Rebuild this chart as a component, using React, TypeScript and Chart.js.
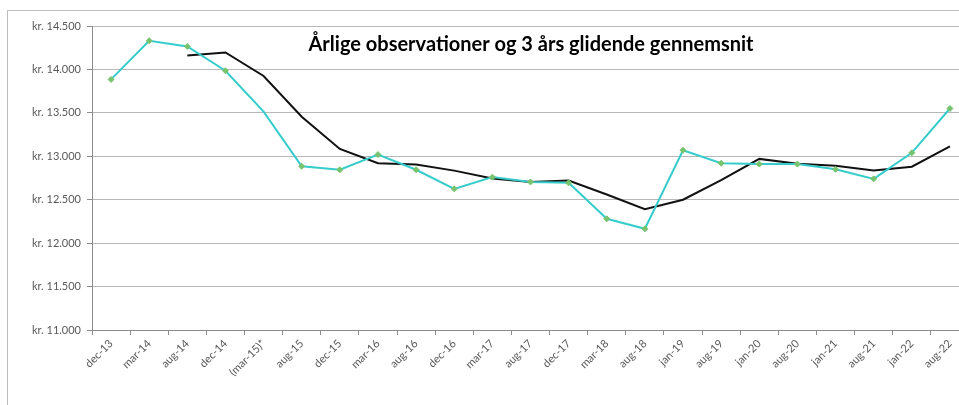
import React, { useEffect, useRef } from "react";
import { Chart, registerables } from "chart.js";

Chart.register(...registerables);

const categories = [
  "dec-13", "mar-14", "aug-14", "dec-14", "(mar-15)*", "aug-15", "dec-15", "mar-16",
  "aug-16", "dec-16", "mar-17", "aug-17", "dec-17", "mar-18", "aug-18", "jan-19",
  "aug-19", "jan-20", "aug-20", "jan-21", "aug-21", "jan-22", "aug-22",
];

const annualObservations = [
  13885, 14330, 14265, 13985, 13515, 12885, 12845, 13020, 12845, 12625, 12760, 12705,
  12695, 12280, 12165, 13070, 12920, 12910, 12910, 12850, 12740, 13040, 13550,
];

const movingAverage3y = [
  null, null, 14160, 14195, 13925, 13455, 13085, 12920, 12905, 12835, 12745, 12705,
  12720, 12560, 12390, 12500, 12725, 12970, 12915, 12890, 12835, 12880, 13115,
];

const categoriesWithoutMarker = ["(mar-15)*"];

const yTicks = [11000, 11500, 12000, 12500, 13000, 13500, 14000, 14500];

const titleText = "Årlige observationer og 3 års glidende gennemsnit";

const formatKr = (v: number) =>
  "kr. " + Math.round(v).toString().replace(/\B(?=(\d{3})+(?!\d))/g, ".");

const FONT = "Lato, 'Liberation Sans', sans-serif";

const overlayTitle = {
  id: "overlayTitle",
  afterDraw(chart: any) {
    const o = chart.options.plugins.overlayTitle;
    if (!o) return;
    const ctx = chart.ctx;
    ctx.save();
    ctx.font = `bold ${o.size}px ${FONT}`;
    ctx.fillStyle = "#000";
    ctx.textAlign = "center";
    ctx.textBaseline = "middle";
    ctx.fillText(o.text, o.x, o.y);
    ctx.restore();
  },
};

export default function App() {
  const ref = useRef<HTMLCanvasElement>(null);

  useEffect(() => {
    if (!ref.current) return;
    const chart = new Chart(ref.current, {
      type: "line",
      data: {
        labels: categories,
        datasets: [
          {
            label: "Årlige observationer",
            data: annualObservations,
            borderColor: "#36CCCC",
            borderWidth: 2,
            backgroundColor: "#78C46E",
            pointStyle: "rectRot",
            pointRadius: (c: any) =>
              categoriesWithoutMarker.includes(categories[c.dataIndex]) ? 0 : 3,
            pointBorderColor: "#78C46E",
            pointBackgroundColor: "#78C46E",
            pointBorderWidth: 1,
            tension: 0,
          },
          {
            label: "3 års glidende gennemsnit",
            data: movingAverage3y,
            borderColor: "#111111",
            borderWidth: 2,
            pointRadius: 0,
            tension: 0,
            spanGaps: false,
          },
        ],
      },
      plugins: [overlayTitle],
      options: {
        responsive: false,
        animation: false,
        layout: { padding: { left: 32, right: 11, top: 26, bottom: 0 } },
        plugins: {
          legend: { display: false },
          title: { display: false },
          tooltip: { enabled: false },
          overlayTitle: { text: titleText, x: 531, y: 45, size: 20 },
        } as any,
        scales: {
          x: {
            type: "category",
            offset: true,
            grid: {
              offset: true,
              drawOnChartArea: false,
              drawTicks: true,
              tickLength: 5,
              color: "#8c8c8c",
            },
            border: { color: "#8c8c8c", width: 1 },
            ticks: {
              autoSkip: false,
              maxRotation: 45,
              minRotation: 45,
              color: "#595959",
              font: { family: FONT, size: 11 },
              padding: 2,
            },
            afterFit: (s: any) => {
              s.height = 75;
            },
          },
          y: {
            min: 11000,
            max: 14500,
            afterBuildTicks: (s: any) => {
              s.ticks = yTicks.map((v) => ({ value: v }));
            },
            grid: {
              color: "#b8b8b8",
              lineWidth: 1,
              drawTicks: true,
              tickLength: 5,
              tickColor: "#8c8c8c",
            },
            border: { color: "#8c8c8c", width: 1 },
            ticks: {
              color: "#595959",
              font: { family: FONT, size: 11 },
              padding: 6,
              callback: (v: any) => formatKr(Number(v)),
            },
            afterFit: (s: any) => {
              s.width = 60;
            },
          },
        },
      },
    });
    return () => chart.destroy();
  }, []);

  return (
    <div
      style={{
        position: "fixed",
        left: 0,
        top: 0,
        width: 959,
        height: 405,
        overflow: "hidden",
        background: "#fff",
      }}
    >
      <div
        style={{
          position: "absolute",
          left: 7,
          top: 10,
          width: 1000,
          height: 440,
          border: "1px solid #bdbdbd",
          boxSizing: "border-box",
        }}
      />
      <canvas
        ref={ref}
        width={980}
        height={405}
        style={{ position: "absolute", left: 0, top: 0, width: 980, height: 405 }}
      />
    </div>
  );
}
